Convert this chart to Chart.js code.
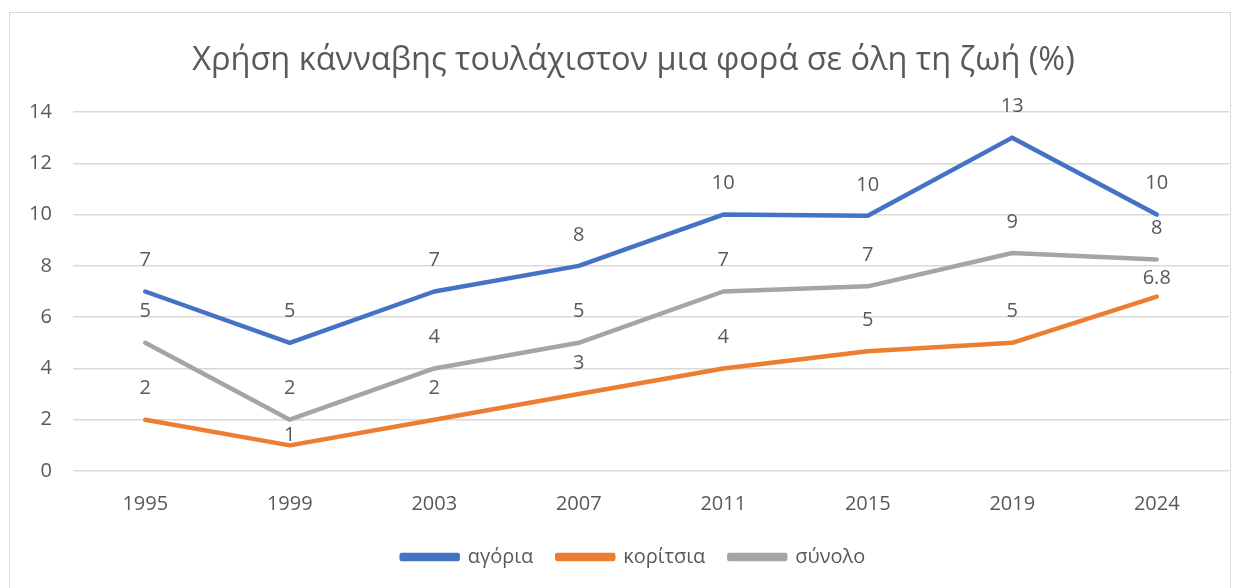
<!DOCTYPE html>
<html>
<head>
<meta charset="utf-8">
<script src="https://cdn.jsdelivr.net/npm/chart.js@4/dist/chart.umd.min.js"></script>
<style>
  html, body { margin: 0; padding: 0; background: #ffffff; }
  #wrap { position: relative; width: 1246px; height: 588px; overflow: hidden; }
  #frame { position: absolute; left: 9px; top: 12px; width: 1222px; height: 600px; border: 1px solid #d9d9d9; box-sizing: border-box; }
  canvas { position: absolute; left: 0; top: 0; }
</style>
</head>
<body>
<div id="wrap">
  <div id="frame"></div>
  <canvas id="c" width="1246" height="588"></canvas>
</div>
<script>
const title = 'Χρήση κάνναβης τουλάχιστον μια φορά σε όλη τη ζωή (%)';
const years = ['1995', '1999', '2003', '2007', '2011', '2015', '2019', '2024'];
const seriesNames = ['αγόρια', 'κορίτσια', 'σύνολο'];
const boys   = [7, 5, 7, 8, 10, 9.95, 13, 10];
const girls  = [2, 1, 2, 3, 4, 4.67, 5, 6.8];
const total  = [5, 2, 4, 5, 7, 7.2, 8.5, 8.25];
const boysLabels  = ['7', '5', '7', '8', '10', '10', '13', '10'];
const girlsLabels = ['2', '1', '2', '3', '4', '5', '5', '6.8'];
const totalLabels = ['5', '2', '4', '5', '7', '7', '9', '8'];
const yTicks = [0, 2, 4, 6, 8, 10, 12, 14];

const FONT = "'Open Sans', 'Noto Sans', sans-serif";
const TXT = '#595959';
const colors = ['#4472C4', '#ED7D31', '#A5A5A5'];
const allValues = [boys, girls, total];
const allLabels = [boysLabels, girlsLabels, totalLabels];

const labelPlugin = {
  id: 'pointLabels',
  afterDatasetsDraw(chart, args, opts) {
    const ctx = chart.ctx;
    ctx.save();
    ctx.font = '20px ' + FONT;
    ctx.fillStyle = TXT;
    ctx.textAlign = 'center';
    ctx.textBaseline = 'middle';
    chart.data.datasets.forEach((ds, i) => {
      const meta = chart.getDatasetMeta(i);
      meta.data.forEach((pt, j) => {
        const key = i + ':' + j;
        const off = (opts.special && opts.special[key] !== undefined) ? opts.special[key] : opts.offset;
        ctx.fillText(allLabels[i][j], pt.x, pt.y - off);
      });
    });
    ctx.restore();
  }
};

new Chart(document.getElementById('c'), {
  type: 'line',
  data: {
    labels: years,
    datasets: seriesNames.map((n, i) => ({
      label: n,
      data: allValues[i],
      borderColor: colors[i],
      backgroundColor: colors[i],
      borderWidth: 4.5,
      borderCapStyle: 'round',
      borderJoinStyle: 'round',
      pointRadius: 0,
      pointHoverRadius: 0,
      tension: 0,
      fill: false
    }))
  },
  options: {
    responsive: false,
    animation: false,
    layout: { padding: { left: 38, right: 17, top: 0, bottom: 11 } },
    plugins: {
      title: {
        display: true,
        text: title,
        color: TXT,
        font: { family: FONT, size: 32.5, weight: 'normal' },
        padding: { top: 41, bottom: 32 }
      },
      legend: {
        position: 'bottom',
        labels: {
          color: TXT,
          font: { family: FONT, size: 20 },
          boxWidth: 56,
          boxHeight: 4,
          padding: 24
        }
      },
      tooltip: { enabled: false },
      pointLabels: { offset: 31, special: { '1:1': 10, '1:7': 18 } }
    },
    scales: {
      x: {
        offset: true,
        grid: { display: false, offset: true },
        border: { display: false },
        ticks: { color: TXT, font: { family: FONT, size: 20 }, padding: 13 },
        afterFit(s) { s.height = 52; }
      },
      y: {
        min: 0, max: 14,
        afterBuildTicks(s) { s.ticks = yTicks.map(v => ({ value: v })); },
        grid: { color: '#d9d9d9', lineWidth: 1.5, drawTicks: false },
        border: { display: false },
        ticks: { color: TXT, font: { family: FONT, size: 20 }, mirror: true, crossAlign: 'far', padding: -44 },
        afterFit(s) { s.width = 35; }
      }
    }
  },
  plugins: [labelPlugin]
});
</script>
</body>
</html>
